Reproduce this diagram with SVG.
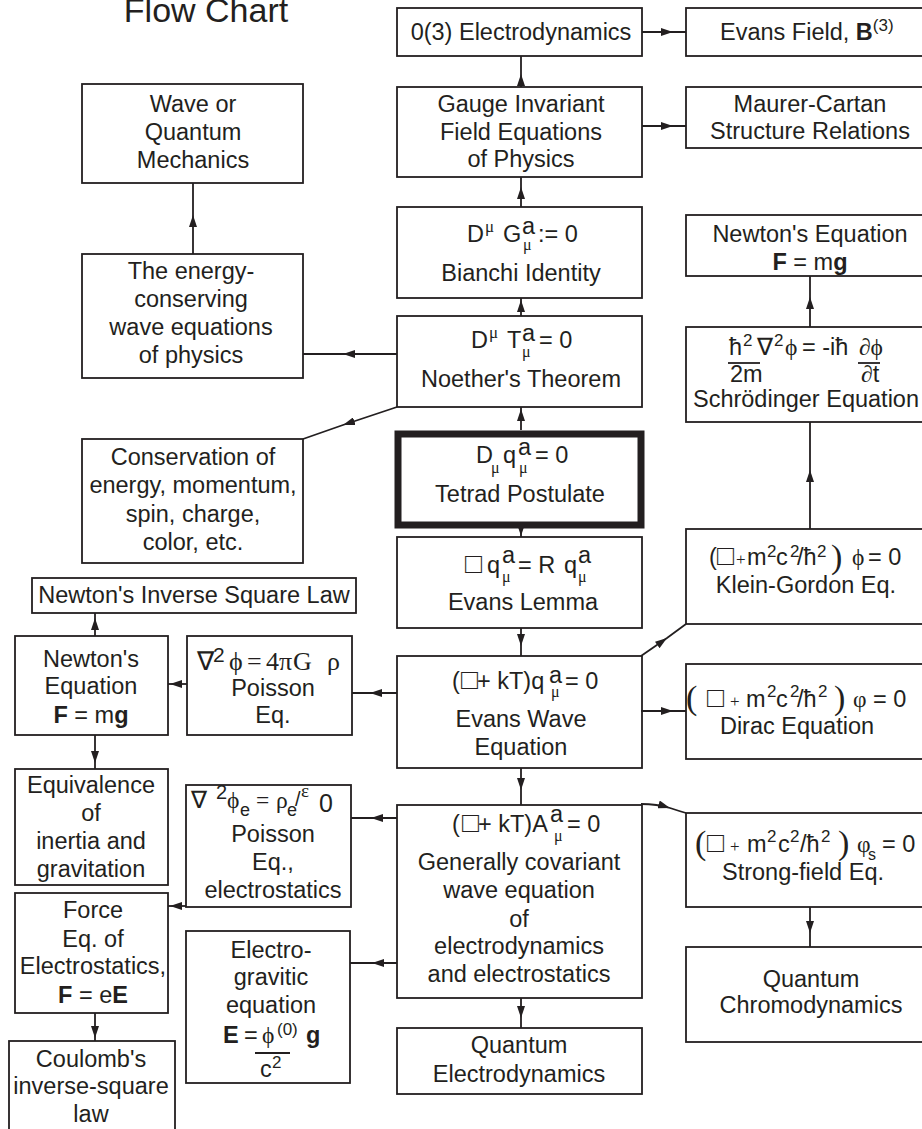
<svg xmlns="http://www.w3.org/2000/svg" width="922" height="1129" viewBox="0 0 922 1129">
<defs>
<style>
.b{fill:#fff;stroke:#231f20;stroke-width:1.8}
.k{fill:#fff;stroke:#231f20;stroke-width:7}
text{font-family:"Liberation Sans",Arial,sans-serif;font-size:23.5px;fill:#231f20}
.m{text-anchor:middle}
.y{font-family:"Liberation Serif","Times New Roman",serif}
.u{font-size:17px}
.v{font-size:16px}
.d{font-weight:bold}
.q{font-size:28px}
.p{font-family:"Liberation Serif","Times New Roman",serif;font-size:34px}
.c{fill:none;stroke:#231f20;stroke-width:1.8;marker-mid:url(#ah)}
.fr{stroke:#231f20;stroke-width:1.8}
</style>
<marker id="ah" viewBox="0 0 12 8" refX="12" refY="4" markerWidth="12" markerHeight="8" orient="auto" markerUnits="userSpaceOnUse"><path d="M0,0L12,4L0,8z" fill="#231f20"/></marker>
</defs>
<rect width="922" height="1129" fill="#fff"/>
<text class="m" x="206" y="22" style="font-size:34px">Flow Chart</text>

<g id="n-o3"><rect class="b" x="397" y="8" width="245" height="48"/><text class="m" x="521" y="40">0(3) Electrodynamics</text></g>
<g id="n-evansfield"><rect class="b" x="686" y="8" width="250" height="48"/><text x="720" y="40">Evans Field, <tspan class="d">B</tspan><tspan class="u" dy="-9">(3)</tspan></text></g>
<g id="n-gauge"><rect class="b" x="397" y="87" width="245" height="90"/><text class="m" x="521" y="112">Gauge Invariant</text><text class="m" x="521" y="139.5">Field Equations</text><text class="m" x="521" y="167">of Physics</text></g>
<g id="n-maurer"><rect class="b" x="686" y="87" width="250" height="61"/><text class="m" x="810" y="112">Maurer-Cartan</text><text class="m" x="810" y="139">Structure Relations</text></g>
<g id="n-wqm"><rect class="b" x="82" y="84" width="221" height="99"/><text class="m" x="193" y="112">Wave or</text><text class="m" x="193" y="140">Quantum</text><text class="m" x="193" y="168">Mechanics</text></g>
<g id="n-energy"><rect class="b" x="82" y="254" width="221" height="124"/><text class="m" x="191" y="279">The energy-</text><text class="m" x="191" y="307">conserving</text><text class="m" x="191" y="335">wave equations</text><text class="m" x="191" y="363">of physics</text></g>
<g id="n-bianchi"><rect class="b" x="397" y="207" width="245" height="91"/>
<text x="467" y="242">D</text><text class="y u" x="485" y="232">μ</text><text x="503" y="242">G</text><text x="522" y="234">a</text><text class="y v" x="523" y="250">μ</text><text x="538" y="242">:= 0</text>
<text class="m" x="521" y="281">Bianchi Identity</text></g>
<g id="n-noether"><rect class="b" x="397" y="316" width="245" height="91"/>
<text x="471" y="348">D</text><text class="y u" x="489" y="338">μ</text><text x="507" y="348">T</text><text x="522" y="341">a</text><text class="y v" x="522" y="357">μ</text><text x="539" y="348">= 0</text>
<text class="m" x="521" y="387">Noether's Theorem</text></g>
<g id="n-conservation"><rect class="b" x="82" y="439" width="221" height="124"/><text class="m" x="193" y="465">Conservation of</text><text class="m" x="193" y="493">energy, momentum,</text><text class="m" x="193" y="522">spin, charge,</text><text class="m" x="193" y="550">color, etc.</text></g>
<g id="n-tetrad"><rect class="k" x="398" y="434" width="243" height="91"/>
<text x="476" y="463">D</text><text class="y v" x="491" y="473">μ</text><text x="503" y="463">q</text><text x="518" y="455">a</text><text class="y v" x="519" y="473">μ</text><text x="535" y="463">= 0</text>
<text class="m" x="520" y="502">Tetrad Postulate</text></g>
<g id="n-newton-r"><rect class="b" x="686" y="215" width="250" height="61"/><text class="m" x="810" y="242">Newton's Equation</text><text class="m" x="810" y="270"><tspan class="d">F</tspan> = m<tspan class="d">g</tspan></text></g>
<g id="n-schrodinger"><rect class="b" x="686" y="327" width="250" height="95"/>
<text x="729" y="355">ħ</text><text class="u" x="743" y="346">2</text><text class="y" x="757" y="355">∇</text><text class="u" x="774" y="346">2</text><text class="y" x="785" y="355">ϕ</text><text x="802" y="355">= -iħ</text><text class="y" x="859" y="355">∂ϕ</text>
<line class="fr" x1="728" y1="363" x2="760" y2="363"/><line class="fr" x1="858" y1="363" x2="880" y2="363"/>
<text x="730" y="382">2m</text><text x="861" y="382"><tspan class="y">∂</tspan>t</text>
<text class="m" x="806" y="407">Schrödinger Equation</text></g>
<g id="n-kg"><rect class="b" x="686" y="529" width="250" height="95"/>
<text x="709" y="565">(</text><text class="q" x="717" y="565">□</text><text class="y u" x="736" y="565">+</text><text x="747" y="565">m</text><text class="u" x="767" y="557">2</text><text x="776" y="565">c</text><text class="u" x="790" y="557">2</text><text x="797" y="565">/ħ</text><text class="u" x="817" y="557">2</text><text class="p" x="831" y="568">)</text><text class="y" x="852" y="565">ϕ</text><text x="868" y="565">= 0</text>
<text class="m" x="806" y="593">Klein-Gordon Eq.</text></g>
<g id="n-lemma"><rect class="b" x="397" y="537" width="245" height="91"/>
<text class="q" x="465" y="573">□</text><text x="487" y="573">q</text><text x="502" y="563">a</text><text class="y v" x="502" y="582">μ</text><text x="518" y="573">= R</text><text x="564" y="573">q</text><text x="578" y="563">a</text><text class="y v" x="578" y="582">μ</text>
<text class="m" x="523" y="610">Evans Lemma</text></g>
<g id="n-inverse"><rect class="b" x="32" y="578" width="324" height="35"/><text class="m" x="194" y="603">Newton's Inverse Square Law</text></g>
<g id="n-newton-l"><rect class="b" x="15" y="636" width="153" height="99"/><text class="m" x="91" y="667">Newton's</text><text class="m" x="91" y="694">Equation</text><text class="m" x="91" y="723"><tspan class="d">F</tspan> = m<tspan class="d">g</tspan></text></g>
<g id="n-poisson"><rect class="b" x="187" y="636" width="165" height="99"/>
<text class="y" style="font-size:26px" x="197" y="670">∇</text><text style="font-size:21px" x="213" y="662">2</text><text class="y" style="font-size:26px" x="229" y="670">ϕ</text><text class="y" style="font-size:26px" x="247" y="670">=</text><text class="y" style="font-size:26px" x="266" y="670">4</text><text class="y" style="font-size:26px" x="279" y="670">π</text><text class="y" style="font-size:26px" x="293" y="670">G</text><text class="y" style="font-size:26px" x="327" y="670">ρ</text>
<text class="m" x="273" y="696">Poisson</text><text class="m" x="273" y="723">Eq.</text></g>
<g id="n-wave"><rect class="b" x="397" y="656" width="245" height="112"/>
<text x="452" y="689">(</text><text class="q" x="461" y="689">□</text><text x="477" y="689">+ kT)q</text><text x="549" y="683">a</text><text class="y v" x="551" y="697">μ</text><text x="565" y="689">= 0</text>
<text class="m" x="521" y="727">Evans Wave</text><text class="m" x="521" y="755">Equation</text></g>
<g id="n-dirac"><rect class="b" x="686" y="664" width="250" height="95"/>
<text class="p" x="686" y="709">(</text><text class="q" x="707" y="707">□</text><text class="y u" x="730" y="707">+</text><text x="746" y="707">m</text><text class="u" x="767" y="697">2</text><text x="776" y="707">c</text><text class="u" x="790" y="697">2</text><text x="797" y="707">/ħ</text><text class="u" x="818" y="697">2</text><text class="p" x="834" y="709">)</text><text class="y" x="853" y="707">φ</text><text x="873" y="707">= 0</text>
<text class="m" x="797" y="734">Dirac Equation</text></g>
<g id="n-equiv"><rect class="b" x="15" y="769" width="153" height="116"/><text class="m" x="91" y="793">Equivalence</text><text class="m" x="91" y="821">of</text><text class="m" x="91" y="849">inertia and</text><text class="m" x="91" y="877">gravitation</text></g>
<g id="n-poisson-e"><rect class="b" x="186" y="785" width="165" height="122"/>
<text class="y" x="191" y="808">∇</text><text style="font-size:20px" x="216" y="799">2</text><text class="y" x="227" y="808">ϕ</text><text style="font-size:18px" x="240" y="816">e</text><text class="y" x="256" y="808">=</text><text class="y" x="276" y="808">ρ</text><text style="font-size:18px" x="287" y="816">e</text><text style="font-size:20px" x="295" y="806">/</text><text class="y" style="font-size:19px" x="301" y="797">ε</text><text style="font-size:25px" x="319" y="812">0</text>
<text class="m" x="273" y="842">Poisson</text><text class="m" x="273" y="870">Eq.,</text><text class="m" x="273" y="898">electrostatics</text></g>
<g id="n-general"><rect class="b" x="397" y="805" width="245" height="193"/>
<text x="452" y="832">(</text><text class="q" x="462" y="832">□</text><text x="478" y="832">+ kT)A</text><text x="550" y="822">a</text><text class="y v" x="554" y="841">μ</text><text x="567" y="832">= 0</text>
<text class="m" x="519" y="870">Generally covariant</text><text class="m" x="519" y="898">wave equation</text><text class="m" x="519" y="927">of</text><text class="m" x="519" y="954">electrodynamics</text><text class="m" x="519" y="982">and electrostatics</text></g>
<g id="n-strong"><rect class="b" x="686" y="813" width="250" height="94"/>
<text class="p" x="695" y="854">(</text><text class="q" x="707" y="852">□</text><text class="y u" x="730" y="852">+</text><text x="747" y="852">m</text><text class="u" x="767" y="842">2</text><text x="778" y="852">c</text><text class="u" x="790" y="842">2</text><text x="800" y="852">/ħ</text><text class="u" x="821" y="842">2</text><text class="p" x="838" y="854">)</text><text class="y" x="857" y="852">φ</text><text class="v" x="868" y="860">s</text><text x="882" y="852">= 0</text>
<text class="m" x="803" y="880">Strong-field Eq.</text></g>
<g id="n-force"><rect class="b" x="15" y="893" width="153" height="120"/><text class="m" x="93" y="918">Force</text><text class="m" x="93" y="947">Eq. of</text><text class="m" x="93" y="974">Electrostatics,</text><text class="m" x="93" y="1003"><tspan class="d">F</tspan> = e<tspan class="d">E</tspan></text></g>
<g id="n-electrograv"><rect class="b" x="186" y="931" width="164" height="152"/>
<text class="m" x="271" y="958">Electro-</text><text class="m" x="271" y="985">gravitic</text><text class="m" x="271" y="1013">equation</text>
<text class="d" x="223" y="1043">E</text><text x="244" y="1043">=</text><text class="y" x="262" y="1043">ϕ</text><text class="u" x="277" y="1035">(0)</text><text class="d" x="306" y="1043">g</text>
<line class="fr" x1="255" y1="1053" x2="290" y2="1053"/>
<text x="260" y="1077">c</text><text class="u" x="272" y="1068">2</text></g>
<g id="n-qcd"><rect class="b" x="686" y="947" width="250" height="95"/><text class="m" x="811" y="987">Quantum</text><text class="m" x="811" y="1013">Chromodynamics</text></g>
<g id="n-qed"><rect class="b" x="397" y="1028" width="245" height="66"/><text class="m" x="519" y="1053">Quantum</text><text class="m" x="519" y="1082">Electrodynamics</text></g>
<g id="n-coulomb"><rect class="b" x="9" y="1041" width="166" height="100"/><text class="m" x="91" y="1067">Coulomb's</text><text class="m" x="91" y="1094">inverse-square</text><text class="m" x="91" y="1122">law</text></g>

<g id="connectors">
<path class="c" d="M642,32L673,32L686,32"/>
<path class="c" d="M521,87L521,74L521,56"/>
<path class="c" d="M642,126L673,126L686,126"/>
<path class="c" d="M521,207L521,187L521,177"/>
<path class="c" d="M521,316L521,300L521,298"/>
<path class="c" d="M521,430L521,409L521,407"/>
<path class="c" d="M521,528L521,536L521,537"/>
<path class="c" d="M521,628L521,646L521,656"/>
<path class="c" d="M521,768L521,790L521,805"/>
<path class="c" d="M521,998L521,1018L521,1028"/>
<path class="c" d="M397,354L343,354L303,354"/>
<path class="c" d="M397,407L343,425L303,439"/>
<path class="c" d="M397,693L370,693L352,693"/>
<path class="c" d="M187,684L170,684L168,684"/>
<path class="c" d="M95,636L95,618L95,613"/>
<path class="c" d="M95,735L95,763L95,769"/>
<path class="c" d="M397,818L371,818L351,818"/>
<path class="c" d="M186,906L170,906L168,906"/>
<path class="c" d="M397,963L372,963L350,963"/>
<path class="c" d="M95,1013L95,1038L95,1041"/>
<path class="c" d="M641,656L667,638L686,624"/>
<path class="c" d="M641,711L673,711L686,711"/>
<path class="c" d="M641,804Q657,804 670,808Q679,811 686,813"/>
<path class="c" d="M810,907L810,933L810,947"/>
<path class="c" d="M810,327L810,297L810,276"/>
<path class="c" d="M810,529L810,470L810,422"/>
<path class="c" d="M193,254L193,215L193,183"/>
</g>
</svg>
